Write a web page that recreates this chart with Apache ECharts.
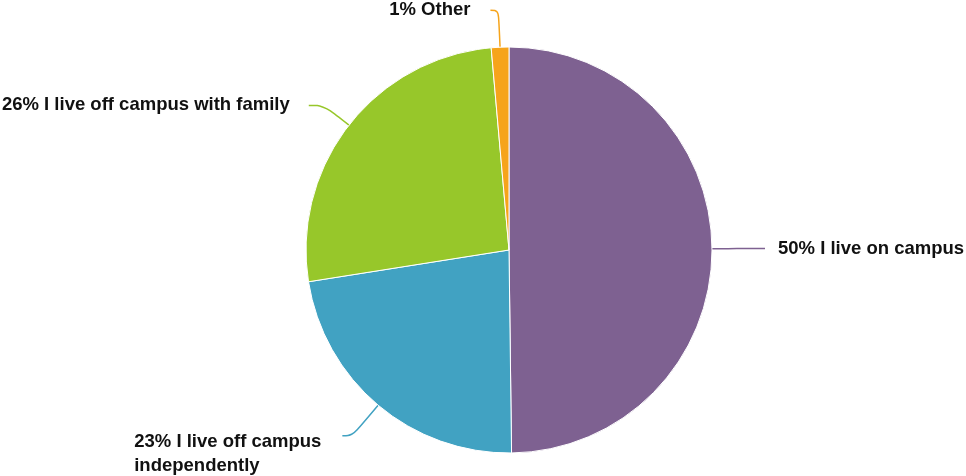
<!DOCTYPE html>
<html>
<head>
<meta charset="utf-8">
<script src="https://cdn.jsdelivr.net/npm/echarts@6/dist/echarts.min.js"></script>
<style>
  html, body { margin: 0; padding: 0; background: #ffffff; }
  #chart { width: 966px; height: 476px; }
</style>
</head>
<body>
<div id="chart"></div>
<script>
const categories = [
  "50% I live on campus",
  "23% I live off campus\nindependently",
  "26% I live off campus with family",
  "1% Other",
];
const shares = [49.8, 22.7, 26.1, 1.4];
const sliceColors = ["#7e6191", "#41a2c2", "#97c72a", "#f6a41b"];

// label line lengths per slice [radial, horizontal] and gap to text
const lineLengths = [[25, 28], [40, 10], [32, 15], [37, 8]];
const labelGaps = [13, 21, 19, 20];

const chart = echarts.init(document.getElementById("chart"), null, { renderer: "canvas" });

const textStyle = {
  color: "#111111",
  fontFamily: "Liberation Sans, Arial, sans-serif",
  fontWeight: "bold",
  fontSize: 18.5,
  lineHeight: 24,
};

chart.setOption({
  animation: false,
  series: [
    {
      type: "pie",
      center: [509, 250],
      radius: 203,
      startAngle: 90,
      clockwise: true,
      avoidLabelOverlap: false,
      itemStyle: { borderColor: "#ffffff", borderWidth: 1 },
      label: {
        show: true,
        position: "outside",
        ...textStyle,
        formatter: (p) => p.name.split("\n").map((s) => "{t|" + s + "}").join("\n"),
        rich: {
          t: { align: "left", ...textStyle },
        },
      },
      labelLine: {
        show: true,
        smooth: 0.4,
        lineStyle: { width: 1.5 },
      },
      data: categories.map((name, i) => ({
        name: name,
        value: shares[i],
        itemStyle: { color: sliceColors[i] },
        label: i === 1
          ? { padding: [36, 0, 0, 0], distanceToLabelLine: labelGaps[i] }
          : { distanceToLabelLine: labelGaps[i] },
        labelLine: { length: lineLengths[i][0], length2: lineLengths[i][1] },
      })),
    },
  ],
});
</script>
</body>
</html>
